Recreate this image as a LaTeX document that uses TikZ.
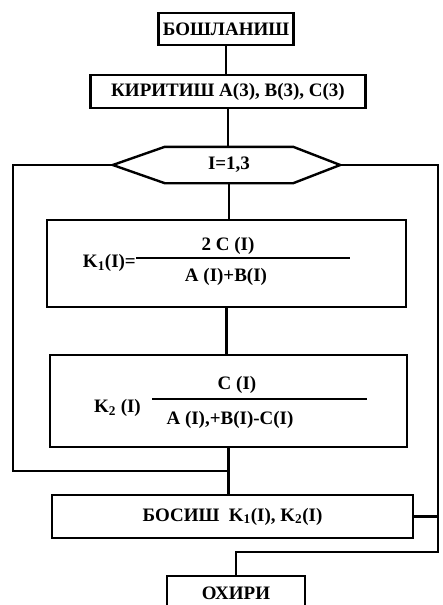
\documentclass[tikz,border=0pt]{standalone}
\usepackage{fontspec}
\setmainfont{Liberation Serif}
\usetikzlibrary{calc}

\tikzset{
  txt/.style={font=\bfseries\fontsize{19}{21}\selectfont,inner sep=1pt},
  box/.style={txt,draw,line width=2.4pt,inner sep=0pt},
  lnk/.style={line width=2.4pt},
  frac/.style={line width=1.8pt}
}

\begin{document}
\begin{tikzpicture}[x=1pt,y=-1pt]
\useasboundingbox (0,0) rectangle (442,605);
\clip (0,0) rectangle (442,605);

% blocks
\node[box,minimum width=135pt,minimum height=32pt] (start) at (226,29) {БОШЛАНИШ};
\node[box,minimum width=275pt,minimum height=33pt] (input) at (228,91.5) {КИРИТИШ A(3), B(3), C(3)};
\node[txt,minimum width=128pt,minimum height=36pt,inner sep=0pt] (cyc) at (229,165) {I=1,3};
\draw[lnk] (cyc.north west) -- (cyc.north east) -- ($(cyc.east)+(47,0)$) coordinate (hexR)
  -- (cyc.south east) -- (cyc.south west) -- ($(cyc.west)+(-52,0)$) coordinate (hexL) -- cycle;

\node[box,minimum width=359pt,minimum height=87pt] (k1) at (226.5,263.5) {};
\node[txt,anchor=east] (k1lhs) at (137,263) {K\textsubscript{1}(I)=};
\node[txt] (k1num) at (228,246) {2 C (I)};
\draw[frac] (136,258) -- (350,258);
\node[txt] (k1den) at (226,277) {A (I)+B(I)};

\node[box,minimum width=357pt,minimum height=92pt] (k2) at (228.5,401) {};
\node[txt,anchor=east] (k2lhs) at (142,408) {K\textsubscript{2} (I)};
\node[txt] (k2num) at (237,385) {C (I)};
\draw[frac] (152,399) -- (367,399);
\node[txt] (k2den) at (230,420) {A (I),+B(I)-C(I)};

\node[box,minimum width=361pt,minimum height=43pt] (out) at (232.5,516.5) {БОСИШ\ \ K\textsubscript{1}(I), K\textsubscript{2}(I)};
\node[box,minimum width=138pt,minimum height=34pt,anchor=north] (fin) at (236,575) {ОХИРИ};

% levels of the loop lines
\coordinate (lvl) at (0,471);
\coordinate (lvlb) at (0,552);
\coordinate (rgt) at (438,0);
\coordinate (join) at (k2.south |- lvl);

% links
\draw[lnk] (start.south) -- (start.south |- input.north);
\draw[lnk] (input.south) -- (input.south |- cyc.north);
\draw[lnk] (cyc.south) -- (cyc.south |- k1.north);
\draw[lnk] (k1.south) -- (k1.south |- k2.north);
\draw[lnk] (k2.south) -- (k2.south |- out.north);
\draw[lnk] (hexL) -- ++(-100,0) |- (join);
\draw[lnk] (hexR) -| (rgt |- lvlb) -| (fin.north);
\draw[lnk] (out.east) -- (out.east -| rgt);
\end{tikzpicture}
\end{document}
